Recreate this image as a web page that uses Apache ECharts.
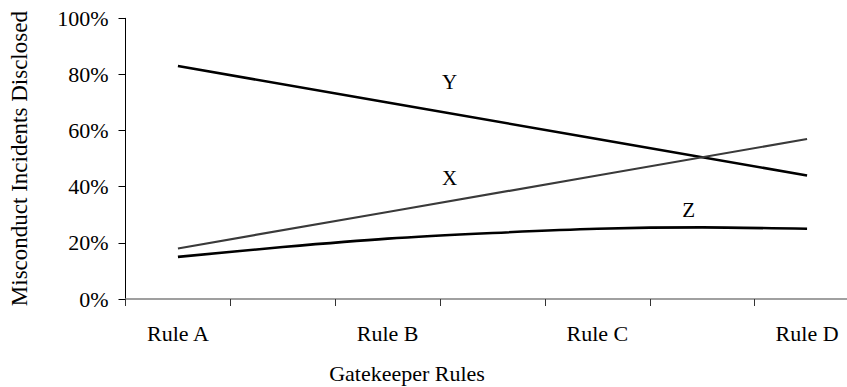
<!DOCTYPE html>
<html>
<head>
<meta charset="utf-8">
<script src="https://cdn.jsdelivr.net/npm/echarts@6/dist/echarts.min.js"></script>
<style>
html,body{margin:0;padding:0;background:#fff;overflow:hidden;}
#chart{width:880px;height:387px;}
</style>
</head>
<body>
<div id="chart"></div>
<script>
// Categories (7 slots; labels shown on every other one)
var categories = ['Rule A', '', 'Rule B', '', 'Rule C', '', 'Rule D'];
// Series values (%)
var seriesY = [83, null, 70, null, 57, null, 44];
var seriesX = [18, null, 31, null, 44, null, 57];
var seriesZ = [15, 18.5, 21.5, 23.5, 25, 25.5, 25];
// Y-axis ticks
var yTicks = [0, 20, 40, 60, 80, 100];
// In-chart series labels: name, category position, value
var labelNames = ['Y', 'X', 'Z'];
var labelCatPos = [2.59, 2.59, 4.87];
var labelValues = [77.3, 43.1, 31.7];

var FONT = '"Liberation Serif", "Times New Roman", serif';
var chart = echarts.init(document.getElementById('chart'), null, {renderer: 'svg'});

var option = {
  animation: false,
  backgroundColor: '#fff',
  grid: {left: 123, top: 18.3, height: 280.7, width: 736.5, containLabel: false},
  xAxis: {
    type: 'category',
    data: categories,
    boundaryGap: true,
    axisLine: {lineStyle: {color: '#808080', width: 1.5}},
    axisTick: {show: true, interval: 0, length: 7, lineStyle: {color: '#333', width: 1}},
    axisLabel: {interval: 0, margin: 23, color: '#000', fontFamily: FONT, fontSize: 22},
    splitLine: {show: false}
  },
  yAxis: {
    type: 'value',
    min: yTicks[0],
    max: yTicks[yTicks.length - 1],
    interval: yTicks[1] - yTicks[0],
    name: 'Misconduct Incidents Disclosed',
    nameLocation: 'middle',
    nameGap: 94.5,
    nameRotate: 90,
    nameTextStyle: {color: '#000', fontFamily: FONT, fontSize: 23},
    axisLine: {show: true, lineStyle: {color: '#000', width: 1}},
    axisTick: {show: true, inside: false, length: 7, lineStyle: {color: '#000'}},
    axisLabel: {margin: 17, color: '#000', fontFamily: FONT, fontSize: 22, formatter: '{value}%'},
    splitLine: {show: false}
  },
  series: [
    {name: 'Y', type: 'line', data: seriesY, connectNulls: true, symbol: 'none',
     lineStyle: {color: '#000', width: 2.6}},
    {name: 'X', type: 'line', data: seriesX, connectNulls: true, symbol: 'none',
     lineStyle: {color: '#3a3a3a', width: 2.2}},
    {name: 'Z', type: 'line', data: seriesZ, smooth: 0.25, symbol: 'none',
     lineStyle: {color: '#000', width: 2.6}}
  ]
};
chart.setOption(option);

function catPixel(pos) {
  var i0 = Math.floor(pos), i1 = Math.min(i0 + 1, categories.length - 1);
  var p0 = chart.convertToPixel({gridIndex: 0}, [i0, 0])[0];
  var p1 = chart.convertToPixel({gridIndex: 0}, [i1, 0])[0];
  return p0 + (p1 - p0) * (pos - i0);
}
var gfx = [];
for (var k = 0; k < labelNames.length; k++) {
  var px = catPixel(labelCatPos[k]);
  var py = chart.convertToPixel({gridIndex: 0}, [0, labelValues[k]])[1];
  gfx.push({type: 'text', x: px, y: py,
    style: {text: labelNames[k], fill: '#000', font: '21px ' + FONT,
            textAlign: 'center', textVerticalAlign: 'middle'}});
}
gfx.push({type: 'text', x: 407, y: 373,
  style: {text: 'Gatekeeper Rules', fill: '#000', font: '22px ' + FONT,
          textAlign: 'center', textVerticalAlign: 'middle'}});
chart.setOption({graphic: gfx});
</script>
</body>
</html>
